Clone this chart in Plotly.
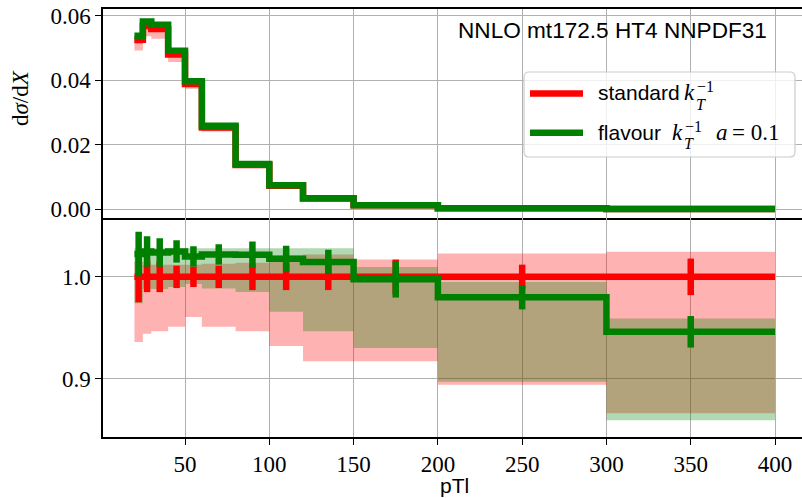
import plotly.graph_objects as go

# ---------------- data ----------------
bin_edges = [20, 25, 30, 40, 50, 60, 80, 100, 120, 150, 200, 300, 400]
bin_centres = [22.5, 27.5, 35, 45, 55, 70, 90, 110, 135, 175, 250, 350]

std_xsec = [0.0526, 0.0568, 0.0559, 0.0480, 0.0389, 0.0254, 0.01375, 0.00735,
            0.00340, 0.00128, 0.00040, 0.00010]
flav_xsec = [0.05378, 0.05822, 0.05724, 0.04920, 0.03968, 0.02596, 0.01405,
             0.00748, 0.00345, 0.001277, 0.000392, 0.0000946]

# scale-uncertainty bands, relative to the standard central value
std_band_lo = [0.936, 0.944, 0.9465, 0.951, 0.9606, 0.951, 0.9465, 0.932, 0.917, 0.917, 0.894, 0.866]
std_band_hi = [1.0148, 1.0115, 1.012, 1.012, 1.012, 1.013, 1.0138, 1.021, 1.022, 1.017, 1.023, 1.0246]
flav_band_lo = [0.974, 0.988, 0.988, 0.990, 0.993, 0.9885, 0.985, 0.9656, 0.9465, 0.930, 0.897, 0.859]
flav_band_hi = [1.028, 1.028, 1.028, 1.028, 1.028, 1.028, 1.028, 1.028, 1.028, 1.0098, 0.995, 0.959]

# statistical errors (relative)
std_err = [0.025, 0.015, 0.015, 0.011, 0.010, 0.011, 0.013, 0.013, 0.013, 0.017, 0.012, 0.018]
flav_err = [0.022, 0.015, 0.014, 0.011, 0.010, 0.010, 0.013, 0.013, 0.012, 0.018, 0.012, 0.0155]

x_ticks = [50, 100, 150, 200, 250, 300, 350, 400]
y_top_ticks = [0.00, 0.02, 0.04, 0.06]
y_bot_ticks = [0.9, 1.0]

label_std = "standard"
label_flav = "flavour"
title_text = "NNLO mt172.5 HT4 NNPDF31"
x_label = "pTl"

# ---------------- derived ----------------
def step(vals):
    return list(vals) + [vals[-1]]

std_ratio = [s / s for s in std_xsec]
flav_ratio = [f / s for f, s in zip(flav_xsec, std_xsec)]
std_abs_lo = [a * b for a, b in zip(std_xsec, std_band_lo)]
std_abs_hi = [a * b for a, b in zip(std_xsec, std_band_hi)]
flav_abs_lo = [a * b for a, b in zip(std_xsec, flav_band_lo)]
flav_abs_hi = [a * b for a, b in zip(std_xsec, flav_band_hi)]

RED = "rgb(255,0,0)"
GREEN = "rgb(0,128,0)"
RED_F = "rgba(255,0,0,0.3)"
GREEN_F = "rgba(0,128,0,0.3)"
LW = 6.5

fig = go.Figure()


def band(lo, hi, color, xa, ya):
    fig.add_trace(go.Scatter(x=bin_edges, y=step(lo), mode="lines", line=dict(width=0, shape="hv"),
                             hoverinfo="skip", xaxis=xa, yaxis=ya))
    fig.add_trace(go.Scatter(x=bin_edges, y=step(hi), mode="lines", line=dict(width=0, shape="hv"),
                             fill="tonexty", fillcolor=color, hoverinfo="skip", xaxis=xa, yaxis=ya))


def stepline(vals, color, xa, ya):
    fig.add_trace(go.Scatter(x=bin_edges, y=step(vals), mode="lines",
                             line=dict(width=LW, color=color, shape="hv"), xaxis=xa, yaxis=ya))


def errbars(yvals, errs, color, xa, ya):
    fig.add_trace(go.Scatter(x=bin_centres, y=yvals, mode="markers",
                             marker=dict(size=1, color="rgba(0,0,0,0)"),
                             error_y=dict(type="data", array=errs, visible=True,
                                          color=color, thickness=LW, width=0),
                             xaxis=xa, yaxis=ya))


# top panel
band(std_abs_lo, std_abs_hi, RED_F, "x", "y")
band(flav_abs_lo, flav_abs_hi, GREEN_F, "x", "y")
stepline(std_xsec, RED, "x", "y")
stepline(flav_xsec, GREEN, "x", "y")

# ratio panel
band(std_band_lo, std_band_hi, RED_F, "x2", "y2")
band(flav_band_lo, flav_band_hi, GREEN_F, "x2", "y2")
stepline(std_ratio, RED, "x2", "y2")
errbars(std_ratio, std_err, RED, "x2", "y2")
stepline(flav_ratio, GREEN, "x2", "y2")
errbars(flav_ratio, flav_err, GREEN, "x2", "y2")

# ---------------- layout ----------------
L, T, W, H = 103, 9, 699, 428


def px(x):
    return (x - L) / W


def py(y):
    return 1 - (y - T) / H


SERIF = "Liberation Serif"
SANS = "Liberation Sans"
TICKFONT = dict(family=SERIF, size=23, color="black")

common_ax = dict(showline=True, linecolor="black", linewidth=1.5, ticks="outside",
                 ticklen=6, tickwidth=1.2, tickcolor="black", showgrid=True,
                 gridcolor="#b0b0b0", gridwidth=1, zeroline=False, tickfont=TICKFONT)

XR = [1.35, 416.0]
split = 0.5106
fig.update_layout(
    width=802, height=498,
    margin=dict(l=L, r=0, t=T, b=498 - T - H),
    paper_bgcolor="white", plot_bgcolor="white", showlegend=False,
    xaxis=dict(common_ax, domain=[0, 1], range=XR, anchor="y", mirror=True,
               tickvals=x_ticks, showticklabels=False),
    yaxis=dict(common_ax, domain=[split, 1], range=[-0.0028, 0.0621], anchor="x",
               tickvals=y_top_ticks, tickformat=".2f"),
    xaxis2=dict(common_ax, domain=[0, 1], range=XR, anchor="y2", mirror=False,
                tickvals=x_ticks),
    yaxis2=dict(common_ax, domain=[0, split], range=[0.8426, 1.0574], anchor="x2",
                tickvals=y_bot_ticks, tickformat=".1f"),
)

ann = []
ann.append(dict(text=title_text, x=px(769), y=py(30), xanchor="right", yanchor="middle",
                font=dict(family=SANS, size=22.6, color="black")))
ann.append(dict(text=x_label, x=px(454.5), y=py(498), xanchor="center", yanchor="bottom",
                borderpad=0, font=dict(family=SANS, size=21, color="black")))
ann.append(dict(text="d<i>σ</i>/d<i>X</i>", x=px(21), y=py(98), xanchor="center", yanchor="middle",
                textangle=-90, font=dict(family=SERIF, size=23, color="black")))

# legend (custom, to allow stacked sub/superscripts)
bx0, by0, bx1, by1, r = 524, 72, 795, 157, 5


def P(x, y):
    return f"{px(x):.5f},{py(y):.5f}"


path = (f"M {P(bx0 + r, by0)} L {P(bx1 - r, by0)} Q {P(bx1, by0)} {P(bx1, by0 + r)} "
        f"L {P(bx1, by1 - r)} Q {P(bx1, by1)} {P(bx1 - r, by1)} "
        f"L {P(bx0 + r, by1)} Q {P(bx0, by1)} {P(bx0, by1 - r)} "
        f"L {P(bx0, by0 + r)} Q {P(bx0, by0)} {P(bx0 + r, by0)} Z")
shapes = [dict(type="path", path=path, xref="paper", yref="paper",
               fillcolor="rgba(255,255,255,0.8)", line=dict(color="#cccccc", width=1.2))]
for yy, col in [(93.5, RED), (132.7, GREEN)]:
    shapes.append(dict(type="line", xref="paper", yref="paper", x0=px(530), x1=px(583),
                       y0=py(yy), y1=py(yy), line=dict(color=col, width=LW)))

LF = dict(family=SANS, size=21, color="black")
MF = dict(family=SERIF, size=23, color="black")
SF = dict(family=SERIF, size=16, color="black")


def A(text, x, y, font, xanchor="left"):
    ann.append(dict(text=text, x=px(x), y=py(y), xanchor=xanchor, yanchor="middle", font=font))


# standard k_T^-1
A(label_std, 596, 92.5, LF)
A("<i>k</i>", 682, 92.5, MF)
A("<i>T</i>", 694, 104, SF)
A("−1", 695, 87, SF)
# flavour k_T^-1 a = 0.1
A(label_flav, 596, 132, LF)
A("<i>k</i>", 670, 132, MF)
A("<i>T</i>", 682, 143.5, SF)
A("−1", 683, 126.5, SF)
A("<i>a</i>", 714, 132, MF)
A("= 0.1", 730, 132, MF)

for a in ann:
    a.setdefault("xref", "paper")
    a.setdefault("yref", "paper")
    a.setdefault("showarrow", False)

fig.update_layout(annotations=ann, shapes=shapes)
fig.write_html("out.html")
